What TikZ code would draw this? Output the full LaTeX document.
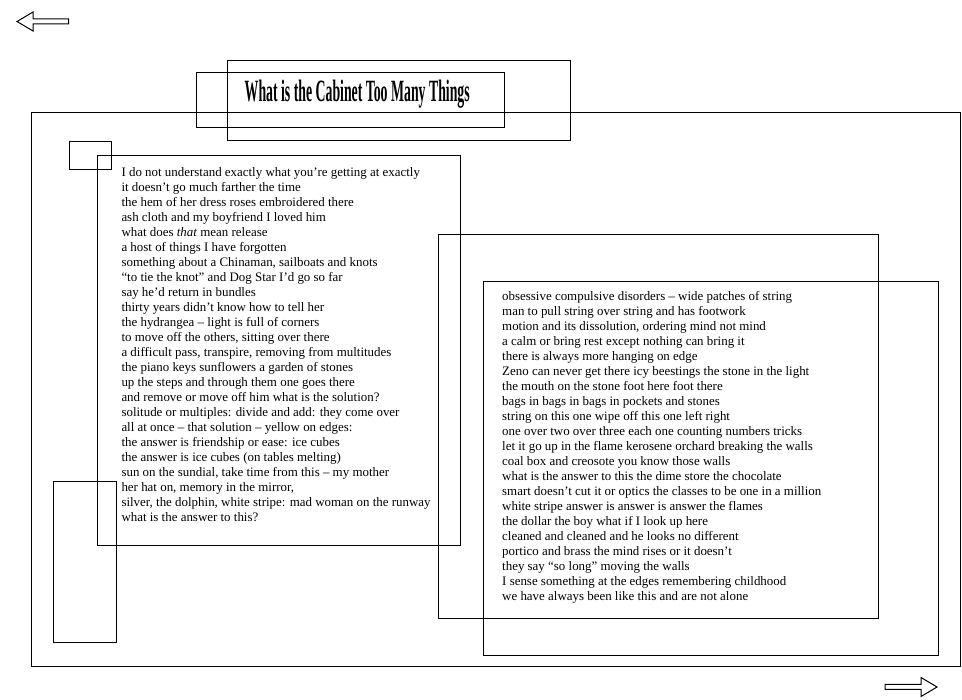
\documentclass[tikz,border=0pt]{standalone}
\usepackage{fontspec}
\setmainfont{Liberation Serif}
\usepackage{graphicx}
\usepackage{tikz}

\begin{document}
\begin{tikzpicture}[x=0.75pt, y=-0.75pt, line width=0.75pt, poem/.style={anchor=north west, inner sep=0pt, align=left, font=\fontsize{9.7}{11.25}\selectfont}, title/.style={anchor=base west, inner sep=0pt}]
\useasboundingbox (0,0) rectangle (962,699);
% arrows
\draw (68.5,19) -- (33,19) -- (33,12) -- (17,21.5) -- (33,31) -- (33,24) -- (68.5,24) -- cycle;
\draw (885,684.3) -- (921,684.3) -- (921,677.5) -- (937,687) -- (921,696.5) -- (921,689.3) -- (885,689.3) -- cycle;
% frames
\draw (31.3,112.5) rectangle (960.7,666.5);
\draw (196.3,72.3) rectangle (504.4,127.3);
\draw (227.3,60.3) rectangle (570.6,140.3);
\draw (69.3,141.3) rectangle (111.4,169.3);
\draw (97.7,155.3) rectangle (460.7,545.2);
\draw (53.3,481.3) rectangle (116.7,642.3);
\draw (438.3,234.3) rectangle (878.7,618.2);
\draw (483.3,281.5) rectangle (938.7,655.2);
% title
\node[title] (title) at (244.2,101.7) {\resizebox{168.75pt}{16.1pt}{\bfseries What is the Cabinet Too Many Things}};
% poems
\node[poem] (left) at (121,167.1) {I do not understand exactly what you’re getting at exactly\\
it doesn’t go much farther the time\\
the hem of her dress roses embroidered there\\
ash cloth and my boyfriend I loved him\\
what does \textit{that} mean release\\
a host of things I have forgotten\\
something about a Chinaman, sailboats and knots\\
“to tie the knot” and Dog Star I’d go so far\\
say he’d return in bundles\\
thirty years didn’t know how to tell her\\
the hydrangea – light is full of corners\\
to move off the others, sitting over there\\
a difficult pass, transpire, removing from multitudes\\
the piano keys sunflowers a garden of stones\\
up the steps and through them one goes there\\
and remove or move off him what is the solution?\\
solitude or multiples: divide and add: they come over\\
all at once – that solution – yellow on edges:\\
the answer is friendship or ease: ice cubes\\
the answer is ice cubes (on tables melting)\\
sun on the sundial, take time from this – my mother\\
her hat on, memory in the mirror,\\
silver, the dolphin, white stripe: mad woman on the runway\\
what is the answer to this?};
\node[poem] (right) at (501.7,291.1) {obsessive compulsive disorders – wide patches of string\\
man to pull string over string and has footwork\\
motion and its dissolution, ordering mind not mind\\
a calm or bring rest except nothing can bring it\\
there is always more hanging on edge\\
Zeno can never get there icy beestings the stone in the light\\
the mouth on the stone foot here foot there\\
bags in bags in bags in pockets and stones\\
string on this one wipe off this one left right\\
one over two over three each one counting numbers tricks\\
let it go up in the flame kerosene orchard breaking the walls\\
coal box and creosote you know those walls\\
what is the answer to this the dime store the chocolate\\
smart doesn’t cut it or optics the classes to be one in a million\\
white stripe answer is answer is answer the flames\\
the dollar the boy what if I look up here\\
cleaned and cleaned and he looks no different\\
portico and brass the mind rises or it doesn’t\\
they say “so long” moving the walls\\
I sense something at the edges remembering childhood\\
we have always been like this and are not alone};
\end{tikzpicture}
\end{document}
